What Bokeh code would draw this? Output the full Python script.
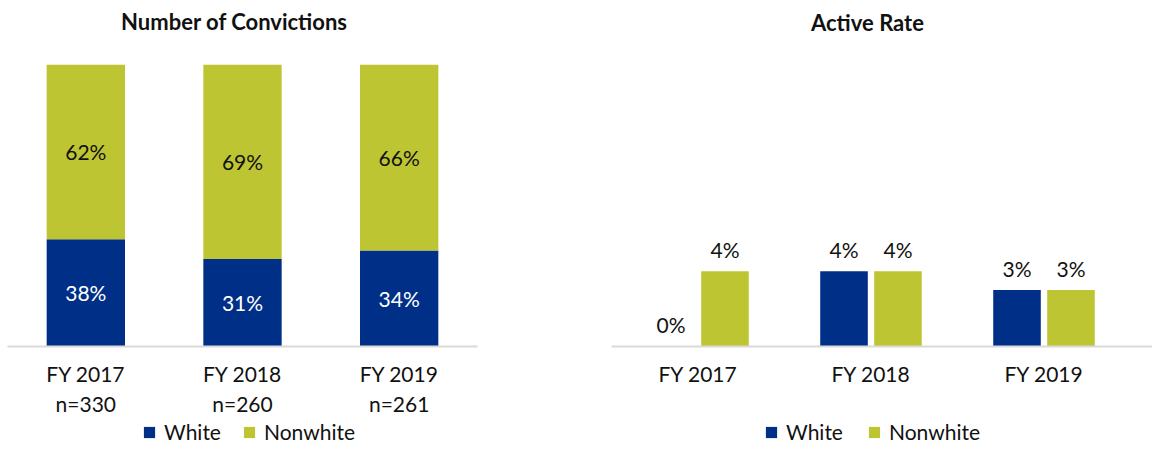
from bokeh.plotting import figure
from bokeh.models import (ColumnDataSource, FactorRange, Range1d, Legend, LegendItem, Label)
from bokeh.layouts import row, column
from bokeh.embed import file_html
from bokeh.resources import INLINE
from bokeh.core.properties import value

FONT = "Lato"
FS = "21px"
BLUE = "#002F87"
GREEN = "#BDC632"
AXIS_GREY = "#D9D9D9"
TEXT = "#111111"

# ---- data ----
conv_title = "Number of Convictions"
conv_years = ["FY 2017\nn=330", "FY 2018\nn=260", "FY 2019\nn=261"]
conv_white = [38, 31, 34]
conv_nonwhite = [62, 69, 66]

rate_title = "Active Rate"
rate_years = ["FY 2017", "FY 2018", "FY 2019"]
rate_white = [0, 4, 3]
rate_nonwhite = [4, 4, 3]

series = ["White", "Nonwhite"]
colors = [BLUE, GREEN]

TITLE_H = 40     # title strip height
H = 380          # chart figure height
LEG_H = 24       # legend strip height
TOP = 24
BOTTOM = 74


def blank_strip(width, height, y_range):
    f = figure(width=width, height=height, x_range=Range1d(0, 1), y_range=y_range,
               x_axis_location=None, y_axis_location=None, toolbar_location=None,
               output_backend="svg", min_border=0)
    f.xgrid.visible = False
    f.ygrid.visible = False
    f.outline_line_color = None
    return f


def title_strip(width, text, cx, cy):
    f = blank_strip(width, TITLE_H, Range1d(0, 1))
    f.add_layout(Label(x=cx, y=cy, x_units="screen", y_units="screen", text=text,
                       text_font=FONT, text_font_style="bold", text_font_size="22px",
                       text_color=TEXT, text_align="center", text_baseline="middle"))
    return f


def legend_strip(width, x_loc, spacing, values):
    # legend-only strip; its swatch renderers are hidden
    lf = blank_strip(width, LEG_H, Range1d(-2, -1))
    pos = [(i + 0.5) / len(values[0]) for i in range(len(values[0]))]
    rends = [lf.vbar(x=pos, top=v, width=0.1, color=c, line_color=None, visible=False)
             for v, c in zip(values, colors)]
    leg = Legend(
        items=[LegendItem(label=s, renderers=[r]) for s, r in zip(series, rends)],
        location=(x_loc, 0), orientation="horizontal", click_policy="none",
        border_line_color=None, background_fill_alpha=0,
        padding=0, margin=0, spacing=spacing, glyph_width=14, glyph_height=14,
        label_standoff=8, label_text_font=FONT, label_text_font_size=FS,
        label_text_color=TEXT, label_height=20,
    )
    lf.add_layout(leg)
    return lf


def style(p):
    p.xgrid.visible = False
    p.ygrid.visible = False
    p.outline_line_color = None
    ax = p.xaxis[0]
    ax.axis_line_color = AXIS_GREY
    ax.axis_line_width = 2
    ax.major_tick_line_color = None
    ax.minor_tick_line_color = None
    ax.major_label_text_font = FONT
    ax.major_label_text_font_size = FS
    ax.major_label_text_color = TEXT
    ax.major_label_standoff = 8


# ---- left: stacked share of convictions ----
src1 = ColumnDataSource(dict(
    year=conv_years,
    White=conv_white,
    Nonwhite=conv_nonwhite,
    wmid=[w / 2 for w in conv_white],
    nmid=[w + n / 2 for w, n in zip(conv_white, conv_nonwhite)],
    wlab=[f"{w}%" for w in conv_white],
    nlab=[f"{n}%" for n in conv_nonwhite],
))

p1 = figure(width=600, height=H, x_range=FactorRange(factors=conv_years),
            y_range=Range1d(0, 100), y_axis_location=None,
            toolbar_location=None, output_backend="svg",
            min_border_left=7, min_border_right=123,
            min_border_top=TOP, min_border_bottom=BOTTOM)
style(p1)
p1.vbar_stack(series, x="year", width=0.5, color=colors, line_color=None, source=src1)
p1.text(x="year", y="wmid", text="wlab", source=src1, text_color="white",
        text_font=value(FONT), text_font_size=value(FS),
        text_align="center", text_baseline="middle")
p1.text(x="year", y="nmid", text="nlab", source=src1, text_color=TEXT,
        text_font=value(FONT), text_font_size=value(FS),
        text_align="center", text_baseline="middle")
t1 = title_strip(600, conv_title, 227, 19)
l1 = legend_strip(600, 135, 21, [conv_white, conv_nonwhite])

# ---- right: grouped active rate ----
xs = [i + 1 for i in range(len(rate_years))]
DODGE = 0.156
BW = 0.275
src2 = ColumnDataSource(dict(
    xw=[x - DODGE for x in xs],
    xn=[x + DODGE for x in xs],
    White=rate_white,
    Nonwhite=rate_nonwhite,
    wlab=[f"{w}%" for w in rate_white],
    nlab=[f"{n}%" for n in rate_nonwhite],
))

p2 = figure(width=552, height=H, x_range=Range1d(0.5, 0.5 + 541 / 173),
            y_range=Range1d(0, 15), y_axis_location=None,
            toolbar_location=None, output_backend="svg",
            min_border_left=11, min_border_right=0,
            min_border_top=TOP, min_border_bottom=BOTTOM)
style(p2)
p2.xaxis.ticker = xs
p2.xaxis.major_label_overrides = {x: lab for x, lab in zip(xs, rate_years)}
p2.vbar(x="xw", top="White", width=BW, color=BLUE, line_color=None, source=src2)
p2.vbar(x="xn", top="Nonwhite", width=BW, color=GREEN, line_color=None, source=src2)
for xcol, ycol, lab in (("xw", "White", "wlab"), ("xn", "Nonwhite", "nlab")):
    p2.text(x=xcol, y=ycol, text=lab, source=src2, text_color=TEXT,
            text_font=value(FONT), text_font_size=value(FS),
            text_align="center", text_baseline="alphabetic", y_offset=-22)
t2 = title_strip(552, rate_title, 256, 18)
l2 = legend_strip(552, 153, 24, [rate_white, rate_nonwhite])

layout = row(column(t1, p1, l1), column(t2, p2, l2))
open("out.html", "w").write(file_html(layout, INLINE))
